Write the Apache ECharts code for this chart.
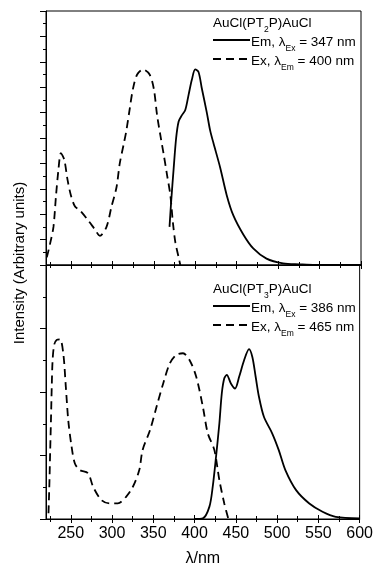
<!DOCTYPE html>
<html>
<head>
<meta charset="utf-8">
<script src="https://cdn.jsdelivr.net/npm/echarts@6/dist/echarts.min.js"></script>
<style>
html, body { margin: 0; padding: 0; background: #fff; }
#main { width: 376px; height: 569px; }
</style>
</head>
<body>
<div id="main"></div>
<script>
// top panel: AuCl(PT2P)AuCl
var ex1Nm = [221, 225, 229, 232, 235, 238, 242, 246, 250, 255, 261, 271, 279, 285, 293, 299, 305, 309, 314, 317, 321, 325, 330, 337, 345, 350, 354, 358, 362, 366, 370, 373, 376, 380, 382];
var ex1 = [0.6, 1.7, 3.0, 5.4, 7.5, 8.8, 8.3, 6.7, 5.5, 4.6, 4.3, 3.5, 2.8, 2.3, 3.0, 4.6, 6.1, 8.0, 9.6, 10.6, 12.3, 13.9, 15.0, 15.4, 15.0, 13.9, 11.8, 10.2, 8.7, 7.1, 5.5, 3.4, 1.8, 0.6, 0];
var em1Nm = [369, 371, 374, 377, 380, 384, 388, 392, 396, 400, 404, 408, 414, 418, 422, 430, 438, 446, 458, 470, 486, 506, 526, 545, 600];
var em1 = [3.0, 5.0, 7.6, 10.0, 11.3, 11.8, 12.2, 13.4, 14.6, 15.4, 15.2, 13.9, 12.0, 10.6, 9.6, 7.7, 5.5, 3.9, 2.4, 1.3, 0.5, 0.13, 0.05, 0, 0];

// bottom panel: AuCl(PT3P)AuCl
var ex2Nm = [223, 224, 225, 226, 227, 228, 230, 233, 237, 241, 244, 247, 251, 255, 261, 271, 277, 287, 297, 307, 317, 325, 333, 337, 346, 354, 362, 370, 378, 386, 394, 402, 410, 416, 424, 430, 436, 441];
var ex2 = [0.18, 1.0, 2.07, 3.1, 4.2, 5.0, 5.5, 5.64, 5.66, 5.2, 4.17, 3.1, 2.28, 1.75, 1.54, 1.44, 1.02, 0.6, 0.49, 0.49, 0.7, 1.0, 1.54, 2.17, 2.8, 3.54, 4.27, 4.9, 5.17, 5.22, 5.0, 4.48, 3.54, 2.7, 2.17, 1.23, 0.49, 0];
var em2Nm = [400, 410, 418, 422, 426, 430, 433, 436, 439, 444, 449, 454, 460, 466, 470, 474, 478, 484, 494, 502, 510, 523, 539, 555, 571, 600];
var em2 = [0, 0.02, 0.39, 1.02, 1.96, 3.0, 3.96, 4.43, 4.54, 4.27, 4.11, 4.48, 5.0, 5.35, 5.1, 4.48, 3.85, 3.22, 2.7, 2.17, 1.54, 0.91, 0.49, 0.23, 0.07, 0.02];

var majorTicks = [250, 300, 350, 400, 450, 500, 550, 600];
var minorTicks = [225, 275, 325, 375, 425, 475, 525, 575];

var font = "'Liberation Sans', Arial, sans-serif";

function pairs(xs, ys) {
    var out = [];
    for (var i = 0; i < xs.length; i++) out.push([xs[i], ys[i]]);
    return out;
}

// ticks cross the axis line, so each grid gets an inside and an outside axis
function xAxesFor(g, labels) {
    var list = [];
    [[majorTicks, 4], [minorTicks, 3]].forEach(function (t, k) {
        [false, true].forEach(function (inside) {
            list.push({
                type: 'value', gridIndex: g, min: 220, max: 600, position: 'bottom',
                axisLine: { show: true, onZero: false, lineStyle: { color: '#000', width: 1 } },
                axisTick: { show: true, inside: inside, length: t[1], customValues: t[0], lineStyle: { color: '#000', width: 1 } },
                axisLabel: {
                    show: labels && k === 0 && !inside, customValues: majorTicks,
                    color: '#000', fontSize: 16, fontFamily: font, margin: 7
                },
                name: (labels && k === 0 && !inside) ? 'λ/nm' : '',
                nameLocation: 'middle', nameGap: 32,
                nameTextStyle: { color: '#000', fontSize: 16, fontFamily: font },
                splitLine: { show: false }
            });
        });
    });
    return list;
}

function yAxisFor(g, max) {
    return {
        type: 'value', gridIndex: g, min: 0, max: max, interval: 2,
        axisLine: { show: true, lineStyle: { color: '#000', width: 1 } },
        axisTick: { show: true, length: 6, lineStyle: { color: '#000' } },
        minorTick: { show: true, splitNumber: 2, length: 3, lineStyle: { color: '#000' } },
        axisLabel: { show: false },
        splitLine: { show: false },
        minorSplitLine: { show: false }
    };
}

var xs = xAxesFor(0, false).concat(xAxesFor(1, true));

function line(name, xi, yi, data, dashed) {
    return {
        name: name, type: 'line', xAxisIndex: xi, yAxisIndex: yi,
        data: data, showSymbol: false, smooth: 0.3, clip: true,
        lineStyle: { color: '#000', width: 1.8, type: dashed ? [8, 5] : 'solid' },
        silent: true
    };
}

function legendBlock(top, sub, emEx, exEm) {
    var rich = {
        a: { fontSize: 13.5, fontFamily: font, fill: '#000', lineHeight: 16 },
        b: { fontSize: 8.5, fontFamily: font, fill: '#000', lineHeight: 16, padding: [12, 0, 0, 0] }
    };
    return [
        { type: 'text', left: 213, top: top, style: { text: '{a|AuCl(PT}{b|' + sub + '}{a|P)AuCl}', rich: rich } },
        { type: 'line', shape: { x1: 213, y1: top + 27, x2: 250, y2: top + 27 }, style: { stroke: '#000', lineWidth: 1.8 } },
        { type: 'text', left: 251, top: top + 19, style: { text: '{a|Em, λ}{b|Ex}{a| = ' + emEx + ' nm}', rich: rich } },
        { type: 'line', shape: { x1: 213, y1: top + 46, x2: 250, y2: top + 46 }, style: { stroke: '#000', lineWidth: 1.8, lineDash: [8, 5] } },
        { type: 'text', left: 251, top: top + 38, style: { text: '{a|Ex, λ}{b|Em}{a| = ' + exEm + ' nm}', rich: rich } }
    ];
}

var chart = echarts.init(document.getElementById('main'));
var option = {
    animation: false,
    backgroundColor: '#fff',
    grid: [
        { left: 46, right: 15, top: 11, height: 254, show: true, borderColor: '#000', borderWidth: 1 },
        { left: 46, right: 15, top: 265, height: 254, show: true, borderColor: '#000', borderWidth: 1 }
    ],
    xAxis: xs,
    yAxis: [yAxisFor(0, 20), yAxisFor(1, 8)],
    series: [
        line('Em top', 0, 0, pairs(em1Nm, em1), false),
        line('Ex top', 0, 0, pairs(ex1Nm, ex1), true),
        line('Em bottom', 4, 1, pairs(em2Nm, em2), false),
        line('Ex bottom', 4, 1, pairs(ex2Nm, ex2), true)
    ],
    graphic: legendBlock(13, '2', '347', '400')
        .concat(legendBlock(279, '3', '386', '465'))
        .concat([{
            type: 'text', x: 20, y: 263, rotation: Math.PI / 2,
            style: { text: 'Intensity (Arbitrary units)', fontSize: 15, fontFamily: font, fill: '#000', align: 'center', verticalAlign: 'middle' }
        }])
};
chart.setOption(option);
</script>
</body>
</html>
